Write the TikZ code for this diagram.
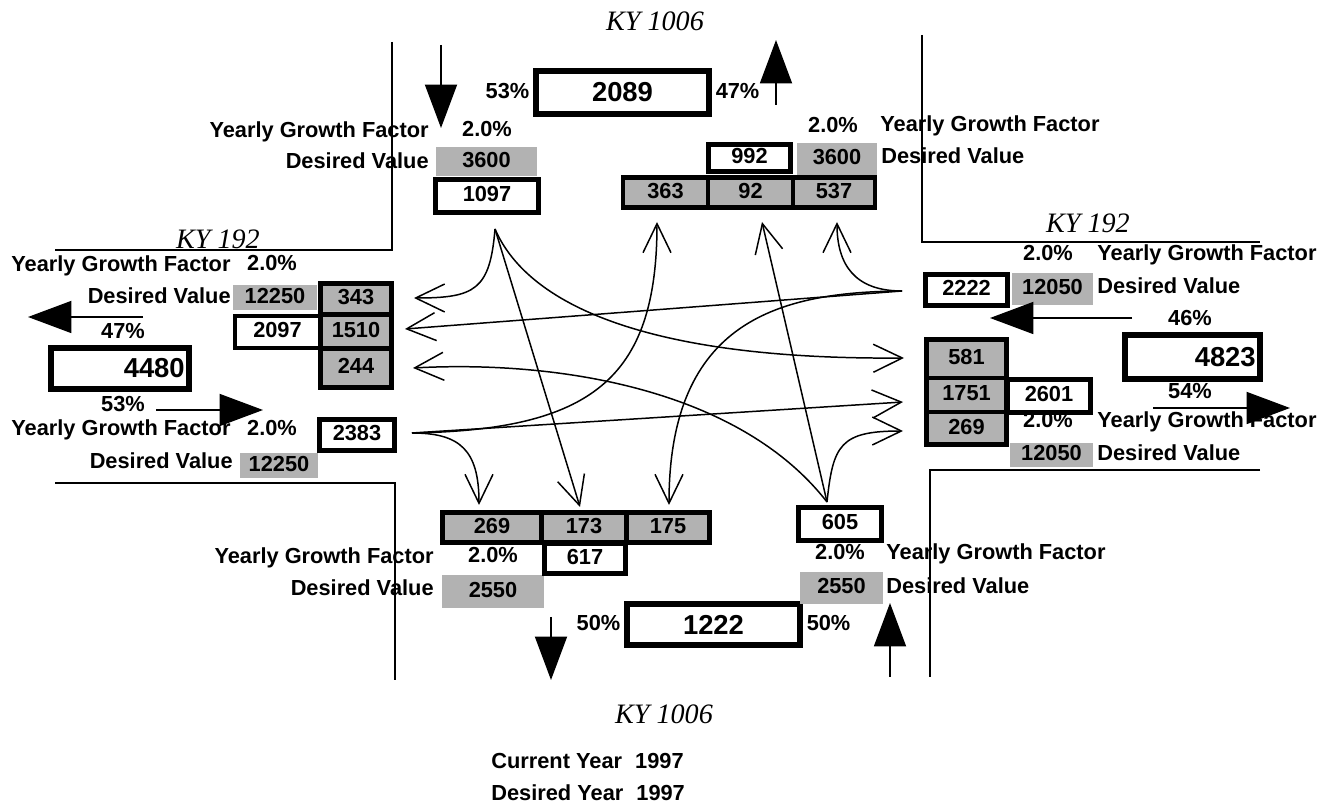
\documentclass[tikz,border=0pt]{standalone}
\usepackage{fontspec}
\setmainfont{Liberation Sans}
\newfontfamily\roadfont{Liberation Serif}
\usepackage{tikz}
\usetikzlibrary{positioning,arrows.meta}

\begin{document}
\begin{tikzpicture}[x=0.02cm,y=-0.02cm,
  labelt/.style={font=\bfseries\fontsize{12.4}{14}\selectfont,inner sep=0pt,text height=9pt,text depth=2.5pt},
  labelr/.style={font=\roadfont\itshape\fontsize{16}{18}\selectfont,inner sep=0pt},
  boxs/.style={labelt,fill=black!30},
  boxv/.style={labelt,draw,line width=2.6pt},
  boxbig/.style={draw,line width=3.6pt,inner sep=0pt,font=\bfseries\fontsize{15.6}{18}\selectfont},
  roadl/.style={line width=1.1pt},
  flowl/.style={line width=0.85pt,-{Straight Barb[length=5.8mm,width=5.6mm]}},
  bigarr/.style={line width=1.1pt,-{Triangle[length=8.7mm,width=6.4mm]}}
]
  \useasboundingbox (0,0) rectangle (1330,810);

  % road edges
  \draw[roadl] (392,42) -- (392,250) -- (55,250);
  \draw[roadl] (922,35) -- (922,242) -- (1260,242);
  \draw[roadl] (55,483) -- (395,483) -- (395,680);
  \draw[roadl] (1260,470) -- (930,470) -- (930,677);

  \node[labelr] (kyn) at (655,21) {KY 1006};
  \node[labelr] (kys) at (664,714) {KY 1006};
  \node[labelr] (kyw) at (218,239) {KY 192};
  \node[labelr] (kye) at (1088,223) {KY 192};

  % approach totals
  \node[boxbig,minimum width=3.45cm,minimum height=0.85cm] (totn) at (622.5,92.5) {2089};
  \node[boxbig,minimum width=3.45cm,minimum height=0.81cm] (tots) at (713.5,624.5) {1222};
  \node[boxbig,minimum height=0.81cm,inner xsep=0.08cm,text width=2.59cm,align=right] (totw) at (120,368.5) {4480};
  \node[boxbig,minimum height=0.87cm,inner xsep=0.08cm,text width=2.53cm,align=right] (tote) at (1192.5,357) {4823};
  \node[labelt,left=2pt of totn] (pn1) {53\%};
  \node[labelt,right=2pt of totn] (pn2) {47\%};
  \node[labelt,left=2pt of tots] (ps1) {50\%};
  \node[labelt,right=2pt of tots] (ps2) {50\%};

  % shaded desired values: name/x/y/width/height/value
  \foreach \nm/\x/\y/\w/\h/\val in {%
    dn/486.5/161.5/2.02/0.58/3600,
    dne/837/159/1.60/0.64/3600,
    dw/275/297.5/1.68/0.50/12250,
    dwb/279/465.5/1.56/0.50/12250,
    de/1052.5/289/1.62/0.64/12050,
    deb/1051.5/455/1.66/0.48/12050,
    ds/493/591.5/2.04/0.66/2550,
    dse/841.5/588/1.66/0.64/2550%
  }{
    \node[boxs,minimum width=\w cm,minimum height=\h cm] (\nm) at (\x,\y) {\val};
  }

  % counted volumes: name/x/y/width/height/fill/value
  \foreach \nm/\x/\y/\w/\h/\fl/\val in {%
    vn/487/196/2.06/0.66/white/1097,
    vne/749.5/158/1.64/0.54/white/992,
    cn1/665.5/192.5/1.70/0.61/black!30/363,
    cn2/750.5/192.5/1.70/0.61/black!30/92,
    cn3/834/192.5/1.64/0.61/black!30/537,
    vw/277.5/332/1.70/0.64/white/2097,
    cw1/356/299/1.43/0.63/black!30/343,
    cw2/356/331.5/1.43/0.66/black!30/1510,
    cw3/356/368/1.43/0.79/black!30/244,
    vwb/357/435/1.51/0.63/white/2383,
    ve/966.5/290/1.65/0.63/white/2222,
    veb/1049/396/1.67/0.67/white/2601,
    ce1/966.5/358.7/1.61/0.77/black!30/581,
    ce2/966.5/395/1.61/0.68/black!30/1751,
    ce3/966.5/428.4/1.61/0.65/black!30/269,
    vs/585/558.5/1.63/0.61/white/617,
    cs1/492/527.5/1.99/0.61/black!30/269,
    cs2/584/527.5/1.68/0.61/black!30/173,
    cs3/668/527.5/1.67/0.61/black!30/175,
    vse/840/524/1.67/0.67/white/605%
  }{
    \node[boxv,fill=\fl,minimum width=\w cm,minimum height=\h cm] (\nm) at (\x,\y) {\val};
  }

  % labels: name/anchor/x/y/text
  \foreach \nm/\an/\x/\y/\txt in {%
    gfn/east/429/132/Yearly Growth Factor,
    rn/center/487/131/2.0\%,
    dvn/east/429/163/Desired Value,
    rne/center/833/127/2.0\%,
    gfne/west/880/126/Yearly Growth Factor,
    dvne/west/881/158/Desired Value,
    gfw/west/11/266/Yearly Growth Factor,
    rw/center/272/265/2.0\%,
    dvw/east/231/298/Desired Value,
    pw1/center/123/333/47\%,
    pw2/center/123/406/53\%,
    gfwb/west/11/430/Yearly Growth Factor,
    rwb/center/272/430/2.0\%,
    dvwb/east/233/463/Desired Value,
    re/center/1048/255/2.0\%,
    gfe/west/1097/255/Yearly Growth Factor,
    dve/west/1097/288/Desired Value,
    pe1/center/1190/320/46\%,
    pe2/center/1190/393/54\%,
    reb/center/1048/422/2.0\%,
    gfeb/west/1097/422/Yearly Growth Factor,
    dveb/west/1097/455/Desired Value,
    gfs/east/434/558/Yearly Growth Factor,
    rs/center/493/557/2.0\%,
    dvs/east/434/590/Desired Value,
    rse/center/840/554/2.0\%,
    gfse/west/886/554/Yearly Growth Factor,
    dvse/west/886/588/Desired Value,
    cy/west/491/763/{Current Year\hspace{0.6em}1997},
    dy/west/491/795/{Desired Year\hspace{0.6em}1997}%
  }{
    \node[labelt,anchor=\an] (\nm) at (\x,\y) {\txt};
  }

  % entering and leaving traffic
  \coordinate (an1) at (441,45);    \coordinate (an2) at (441,128);
  \coordinate (xn1) at (776,105);   \coordinate (xn2) at (776,40);
  \coordinate (xw1) at (143,317);   \coordinate (xw2) at (28,317);
  \coordinate (aw1) at (156,410);   \coordinate (aw2) at (263,410);
  \coordinate (ae1) at (1132,318);  \coordinate (ae2) at (990,318);
  \coordinate (xe1) at (1153,408);  \coordinate (xe2) at (1290,408);
  \coordinate (xs1) at (551,617);   \coordinate (xs2) at (551,680);
  \coordinate (as1) at (890,677);   \coordinate (as2) at (890,603);
  \foreach \a/\b in {an1/an2,xn1/xn2,xw1/xw2,aw1/aw2,ae1/ae2,xe1/xe2,xs1/xs2,as1/as2}
    \draw[bigarr] (\a) -- (\b);

  % turning movements: sources and arrow tips
  \coordinate (sn) at (495,229);
  \coordinate (sw) at (412,433);
  \coordinate (se) at (902,291);
  \coordinate (ss) at (827,502);
  \coordinate (tw1) at (414,298);  \coordinate (tw2) at (405,329);  \coordinate (tw3) at (413,368);
  \coordinate (te1) at (904,358);  \coordinate (te2) at (903,402);  \coordinate (te3) at (903,431);
  \coordinate (tn1) at (657,222);  \coordinate (tn2) at (762,222);  \coordinate (tn3) at (837,222);
  \coordinate (ts1) at (479,505);  \coordinate (ts2) at (580,507);  \coordinate (ts3) at (669,505);

  \draw[flowl] (sn) .. controls (490,290) and (475,298) .. (tw1);
  \draw[flowl] (sn) -- (ts2);
  \draw[flowl] (sn) .. controls (530,310) and (660,360) .. (te1);
  \draw[flowl] (sw) .. controls (590,430) and (657,380) .. (tn1);
  \draw[flowl] (sw) -- (te2);
  \draw[flowl] (sw) .. controls (460,433) and (479,450) .. (ts1);
  \draw[flowl] (se) .. controls (855,291) and (837,265) .. (tn3);
  \draw[flowl] (se) -- (tw2);
  \draw[flowl] (se) .. controls (780,292) and (669,320) .. (ts3);
  \draw[flowl] (ss) .. controls (740,390) and (560,360) .. (tw3);
  \draw[flowl] (ss) -- (tn2);
  \draw[flowl] (ss) .. controls (833,445) and (840,431) .. (te3);
\end{tikzpicture}
\end{document}
